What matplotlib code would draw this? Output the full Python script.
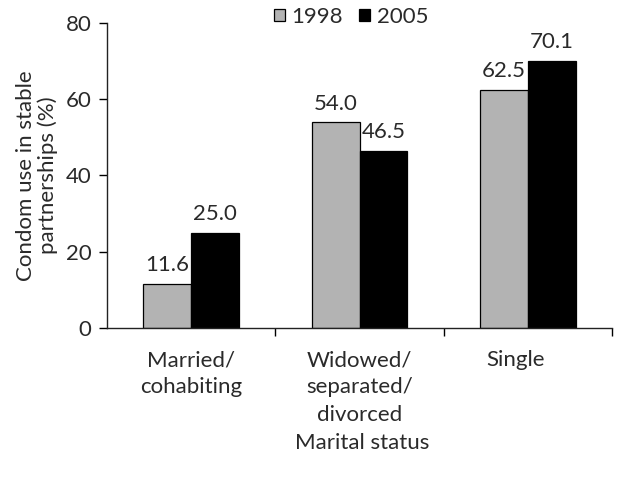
import numpy as np
import matplotlib
matplotlib.use('Agg')
import matplotlib.pyplot as plt
from matplotlib.patches import Patch
from matplotlib.transforms import ScaledTranslation

plt.rcParams['font.family'] = ['Lato', 'DejaVu Sans']

# Data
categories = ['Married/\ncohabiting', 'Widowed/\nseparated/\ndivorced', 'Single']
years = ['1998', '2005']
vals_1998 = [11.6, 54.0, 62.5]
vals_2005 = [25.0, 46.5, 70.1]
colors = ['#b3b3b3', '#000000']

fs = 16
tc = '#2a2a2a'

fig = plt.figure(figsize=(6.2, 4.78), dpi=100)
ax = fig.add_axes([0.1726, 0.3138, 0.8145, 0.6382])

x = np.arange(len(categories))
w = 0.285
b1 = ax.bar(x - w / 2, vals_1998, w, color=colors[0], edgecolor='black', linewidth=0.9)
b2 = ax.bar(x + w / 2, vals_2005, w, color=colors[1], edgecolor='black', linewidth=0.9)

for bars, vals in [(b1, vals_1998), (b2, vals_2005)]:
    for r, v in zip(bars, vals):
        ax.text(r.get_x() + r.get_width() / 2, v + 2.2, '{0:.1f}'.format(v),
                ha='center', va='bottom', fontsize=fs, color=tc)

ax.set_xlim(-0.5, 2.5)
ax.set_ylim(0, 80)
ax.set_yticks([0, 20, 40, 60, 80])
ax.set_xticks(x)
ax.set_xticklabels(categories, fontsize=fs, color=tc, va='top', linespacing=1.45)
ax.set_xticks([0.5, 1.5, 2.5], minor=True)
ax.tick_params(axis='x', which='major', length=0, pad=16)
ax.tick_params(axis='x', which='minor', length=6, direction='out', width=1)
ax.tick_params(axis='y', length=6, direction='out', width=1, labelsize=fs, labelcolor=tc, pad=5)

# "Single" sits a bit left of its category centre in the original
lab = ax.get_xticklabels()[2]
lab.set_transform(lab.get_transform() + ScaledTranslation(-0.12, 0, fig.dpi_scale_trans))

for s in ['top', 'right']:
    ax.spines[s].set_visible(False)
for s in ['left', 'bottom']:
    ax.spines[s].set_linewidth(1)
    ax.spines[s].set_color('#222222')

ax.set_ylabel('Condom use in stable\npartnerships (%)', fontsize=fs, color=tc, labelpad=6,
              linespacing=1.05)
ax.set_xlabel('Marital status', fontsize=fs, color=tc, labelpad=11)
ax.xaxis.set_label_coords(0.505, -0.345)

handles = [Patch(facecolor=colors[0], edgecolor='black', linewidth=0.9),
           Patch(facecolor=colors[1], edgecolor='black', linewidth=0.9)]
ax.legend(handles, years, loc='center', bbox_to_anchor=(0.483, 1.02), ncol=2, frameon=False,
          fontsize=fs, handlelength=0.5, handleheight=0.5, handletextpad=0.3, columnspacing=0.7,
          labelcolor=tc)

plt.savefig('out.png', dpi=100)
